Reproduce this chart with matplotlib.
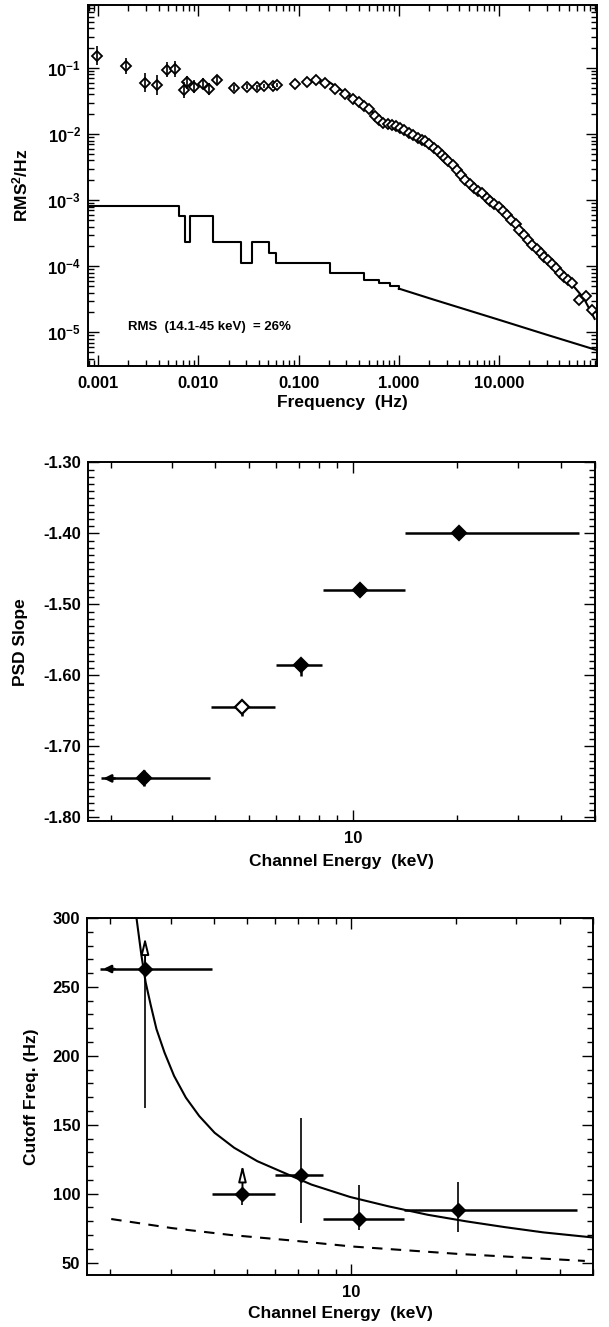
import matplotlib
matplotlib.use('Agg')
import matplotlib.pyplot as plt
import numpy as np
from matplotlib.ticker import LogLocator, MultipleLocator, NullFormatter

plt.rcParams['font.family'] = ['Liberation Sans', 'DejaVu Sans']
plt.rcParams['font.weight'] = 'bold'
plt.rcParams['axes.labelweight'] = 'bold'
plt.rcParams['mathtext.fontset'] = 'custom'
plt.rcParams['mathtext.rm'] = 'Liberation Sans:bold'
plt.rcParams['mathtext.it'] = 'Liberation Sans:bold'
plt.rcParams['mathtext.bf'] = 'Liberation Sans:bold'
plt.rcParams['mathtext.default'] = 'rm'

# --- Panel 1: power spectrum (14.1-45 keV) ---
freq = [0.00098, 0.0019, 0.0029, 0.0039, 0.0048, 0.0058, 0.0072, 0.0077, 0.0091,
        0.011, 0.0128, 0.0153, 0.0228, 0.0304, 0.0383, 0.045, 0.056, 0.061,
        0.092, 0.121, 0.150, 0.184, 0.231, 0.291, 0.352, 0.40, 0.45, 0.50, 0.58,
        0.64, 0.70, 0.78, 0.85, 0.94, 1.03, 1.13, 1.25, 1.40, 1.57, 1.70, 1.83,
        2.0, 2.22, 2.45, 2.69, 2.9, 3.13, 3.45, 3.8, 4.2, 4.6, 5.1, 5.6, 6.2,
        6.8, 7.5, 8.2, 9.0, 9.9, 11.0, 12.0, 13.3, 14.6, 16.0, 17.7, 19.5, 21.5,
        23.7, 26.1, 28.2, 30.5, 33.5, 37, 41, 45, 49, 54, 63, 74, 85]
psd = [0.155, 0.106, 0.060, 0.056, 0.095, 0.098, 0.046, 0.061, 0.052,
       0.058, 0.048, 0.065, 0.050, 0.052, 0.051, 0.054, 0.054, 0.055,
       0.058, 0.061, 0.067, 0.060, 0.048, 0.041, 0.034, 0.031, 0.027, 0.024, 0.0190,
       0.0165, 0.0150, 0.0145, 0.0139, 0.0132, 0.0124, 0.0114, 0.0104, 0.0096, 0.0088, 0.0082, 0.0078,
       0.0070, 0.0062, 0.0055, 0.0049, 0.0044, 0.0039, 0.0034, 0.0029, 0.0024, 0.0020, 0.00175, 0.00153, 0.00140,
       0.00129, 0.00110, 0.00096, 0.00088, 0.00080, 0.00068, 0.00060, 0.00050, 0.00043, 0.00036, 0.00030, 0.00025, 0.000213,
       0.000185, 0.000159, 0.000140, 0.000126, 0.000108, 0.000094, 0.000080, 0.000070, 0.000062, 0.000056, 0.000031, 0.000035, 0.000022]
psd_err_dex = [0.15, 0.12, 0.14, 0.15, 0.12, 0.12, 0.12, 0.10, 0.10,
               0.08, 0.09, 0.06, 0.05, 0.04, 0.04, 0.03, 0.03, 0.03]

model_f = [0.20, 0.35, 0.5, 0.7, 1.0, 1.5, 2.0, 3.0, 5.0, 10, 20, 30, 50, 70, 90]
model_p = [0.062, 0.035, 0.024, 0.016, 0.0120, 0.0092, 0.0068, 0.0042, 0.0018,
           0.00080, 0.00025, 0.00013, 0.000060, 0.000033, 0.000016]

noise_edges = [0.0008, 0.0064, 0.0073, 0.0082, 0.0140, 0.0265, 0.034, 0.0506, 0.059,
               0.206, 0.45, 0.63, 0.82, 1.0]
noise_level = [8.3e-4, 5.8e-4, 2.3e-4, 5.8e-4, 2.3e-4, 1.12e-4, 2.3e-4, 1.6e-4, 1.12e-4,
               7.8e-5, 6.2e-5, 5.6e-5, 5.0e-5, 4.6e-5]
noise_tail_f = [1.0, 2.2, 10, 30, 87, 95]
noise_tail_p = [4.6e-5, 3.15e-5, 1.55e-5, 9.2e-6, 5.6e-6, 5.4e-6]

# --- Panel 2: PSD slope vs channel energy ---
energy = [2.49, 4.79, 7.10, 10.46, 20.2]
e_lo = [1.87, 3.90, 5.99, 8.2, 14.1]
e_hi = [3.86, 5.96, 8.16, 14.1, 45.1]
slope = [-1.745, -1.645, -1.585, -1.480, -1.400]
slope_up = [0.012, 0.005, 0.004, 0.004, 0.004]
slope_dn = [0.010, 0.012, 0.016, 0.004, 0.004]

# --- Panel 3: cutoff frequency vs channel energy ---
energy3 = [2.53, 4.84, 7.13, 10.49, 20.3]
e3_lo = [1.88, 3.94, 6.03, 8.28, 14.2]
e3_hi = [3.94, 6.03, 8.28, 14.2, 44.9]
cutoff = [263, 100, 113.8, 81.6, 88.4]
cutoff_hi = [263, 100, 155, 106.6, 108.3]
cutoff_lo = [162, 92, 79, 73.8, 72]
cutoff_limit = [288, 123, None, None, None]
fit_e = [2.39, 2.47, 2.54, 2.63, 2.73, 2.88, 3.07, 3.32, 3.63, 4.02, 4.58, 5.34,
         6.23, 7.66, 9.91, 12.8, 16.6, 21.5, 27.8, 35.9, 50]
fit_f = [300, 272.8, 253.4, 236.4, 219.4, 202.4, 185.4, 169.7, 156.3, 144.2, 133.3,
         123.6, 116.3, 106.6, 97.6, 90.8, 84.7, 79.9, 75.7, 71.9, 68.2]
dash_e = [2.02, 3.03, 4.48, 6.74, 10, 20.3, 47.3]
dash_f = [81.6, 75, 70, 66, 61.7, 56.3, 51.2]

TICK = 12
LAB = 12.5


def style(ax):
    ax.tick_params(which='both', direction='in', top=True, right=True, width=1.0)
    ax.tick_params(which='major', length=8, labelsize=TICK)
    ax.tick_params(which='minor', length=4)
    ax.tick_params(axis='x', pad=7)
    ax.tick_params(axis='y', pad=5)
    for s in ax.spines.values():
        s.set_linewidth(1.4)


fig = plt.figure(figsize=(6.09, 13.27), dpi=100)

# Panel 1
ax1 = fig.add_axes([0.1445, 0.7242, 0.8358, 0.2720])
ax1.set_xscale('log')
ax1.set_yscale('log')
f_arr = np.array(freq)
p_arr = np.array(psd)
n_err = len(psd_err_dex)
e_arr = np.array(psd_err_dex)
yerr = np.array([p_arr[:n_err] * (1 - 10 ** -e_arr), p_arr[:n_err] * (10 ** e_arr - 1)])
ax1.plot(model_f, model_p, color='k', lw=1.5, zorder=2)
ax1.plot(freq, psd, 'D', ms=5.5, mfc='white', mec='k', mew=1.3, zorder=3)
ax1.errorbar(f_arr[:n_err], p_arr[:n_err], yerr=yerr, fmt='none', ecolor='k',
             elinewidth=1.2, zorder=4)
ax1.step(noise_edges, noise_level, where='post', color='k', lw=1.5)
ax1.plot(noise_tail_f, noise_tail_p, color='k', lw=1.5)
ax1.set_xlim(0.00079, 95)
ax1.set_ylim(3.1e-6, 0.9)
ax1.set_xticks([0.001, 0.01, 0.1, 1, 10])
ax1.set_xticklabels(['0.001', '0.010', '0.100', '1.000', '10.000'])
ax1.set_yticks([1e-5, 1e-4, 1e-3, 1e-2, 1e-1])
ax1.set_yticklabels(['10$^{-5}$', '10$^{-4}$', '10$^{-3}$', '10$^{-2}$', '10$^{-1}$'])
ax1.xaxis.set_minor_locator(LogLocator(base=10, subs=np.arange(2, 10), numticks=20))
ax1.yaxis.set_minor_locator(LogLocator(base=10, subs=np.arange(2, 10), numticks=20))
ax1.xaxis.set_minor_formatter(NullFormatter())
ax1.yaxis.set_minor_formatter(NullFormatter())
style(ax1)
ax1.set_xlabel('Frequency  (Hz)', fontsize=LAB, va='top')
ax1.set_ylabel('RMS$^2$/Hz', fontsize=LAB)
ax1.xaxis.set_label_coords(0.5, -0.080)
ax1.yaxis.set_label_coords(-0.114, 0.5)
ax1.text(0.0786, 0.108, 'RMS  (14.1-45 keV)  = 26%', transform=ax1.transAxes,
         fontsize=9.5, va='center', ha='left')

# Panel 2
ax2 = fig.add_axes([0.1445, 0.3813, 0.8325, 0.2702])
ax2.set_xscale('log')
en = np.array(energy)
ax2.errorbar(energy, slope,
             xerr=[en - np.array(e_lo), np.array(e_hi) - en],
             yerr=[slope_dn, slope_up], fmt='none', ecolor='k', elinewidth=1.8)
for i, (x, y) in enumerate(zip(energy, slope)):
    fc = 'white' if i == 1 else 'k'
    ax2.plot(x, y, 'D', ms=7, mfc=fc, mec='k', mew=1.6)
ax2.annotate('', xy=(e_lo[0], slope[0]), xytext=(e_lo[0] * 1.12, slope[0]),
             arrowprops=dict(arrowstyle='-|>', color='k', lw=1.8, mutation_scale=11))
ax2.set_xlim(1.72, 50)
ax2.set_ylim(-1.805, -1.30)
ax2.set_xticks([10])
ax2.set_xticklabels(['10'])
ax2.xaxis.set_minor_locator(LogLocator(base=10, subs=np.arange(2, 10), numticks=20))
ax2.xaxis.set_minor_formatter(NullFormatter())
ax2.set_yticks([-1.80, -1.70, -1.60, -1.50, -1.40, -1.30])
ax2.set_yticklabels(['-1.80', '-1.70', '-1.60', '-1.50', '-1.40', '-1.30'])
ax2.yaxis.set_minor_locator(MultipleLocator(0.01))
style(ax2)
ax2.set_xlabel('Channel Energy  (keV)', fontsize=LAB, va='top')
ax2.set_ylabel('PSD Slope', fontsize=LAB)
ax2.xaxis.set_label_coords(0.5, -0.093)
ax2.yaxis.set_label_coords(-0.118, 0.5)

# Panel 3
ax3 = fig.add_axes([0.1430, 0.0392, 0.8310, 0.2690])
ax3.set_xscale('log')
en3 = np.array(energy3)
cf = np.array(cutoff)
ax3.plot(fit_e, fit_f, color='k', lw=1.5)
ax3.plot(dash_e, dash_f, color='k', lw=1.5, ls=(0, (5, 4)))
ax3.errorbar(energy3, cutoff, xerr=[en3 - np.array(e3_lo), np.array(e3_hi) - en3],
             fmt='none', ecolor='k', elinewidth=1.8)
ax3.errorbar(energy3, cutoff, yerr=[cf - np.array(cutoff_lo), np.array(cutoff_hi) - cf],
             fmt='none', ecolor='k', elinewidth=1.2)
ax3.plot(energy3, cutoff, 'D', ms=7, mfc='k', mec='k')
for x, y, lim in zip(energy3, cutoff, cutoff_limit):
    if lim is not None:
        ax3.annotate('', xy=(x, lim), xytext=(x, y),
                     arrowprops=dict(arrowstyle='-|>,head_length=0.7,head_width=0.17',
                                     color='k', lw=1.4, mutation_scale=14, fc='white'))
ax3.annotate('', xy=(e3_lo[0], cutoff[0]), xytext=(e3_lo[0] * 1.12, cutoff[0]),
             arrowprops=dict(arrowstyle='-|>', color='k', lw=1.8, mutation_scale=11))
ax3.set_xlim(1.72, 50)
ax3.set_ylim(41, 300)
ax3.set_xticks([10])
ax3.set_xticklabels(['10'])
ax3.xaxis.set_minor_locator(LogLocator(base=10, subs=np.arange(2, 10), numticks=20))
ax3.xaxis.set_minor_formatter(NullFormatter())
ax3.set_yticks([50, 100, 150, 200, 250, 300])
ax3.yaxis.set_minor_locator(MultipleLocator(10))
style(ax3)
ax3.set_xlabel('Channel Energy  (keV)', fontsize=LAB, va='top')
ax3.set_ylabel('Cutoff Freq. (Hz)', fontsize=LAB)
ax3.xaxis.set_label_coords(0.5, -0.087)
ax3.yaxis.set_label_coords(-0.095, 0.5)

fig.savefig('out.png', dpi=100)
